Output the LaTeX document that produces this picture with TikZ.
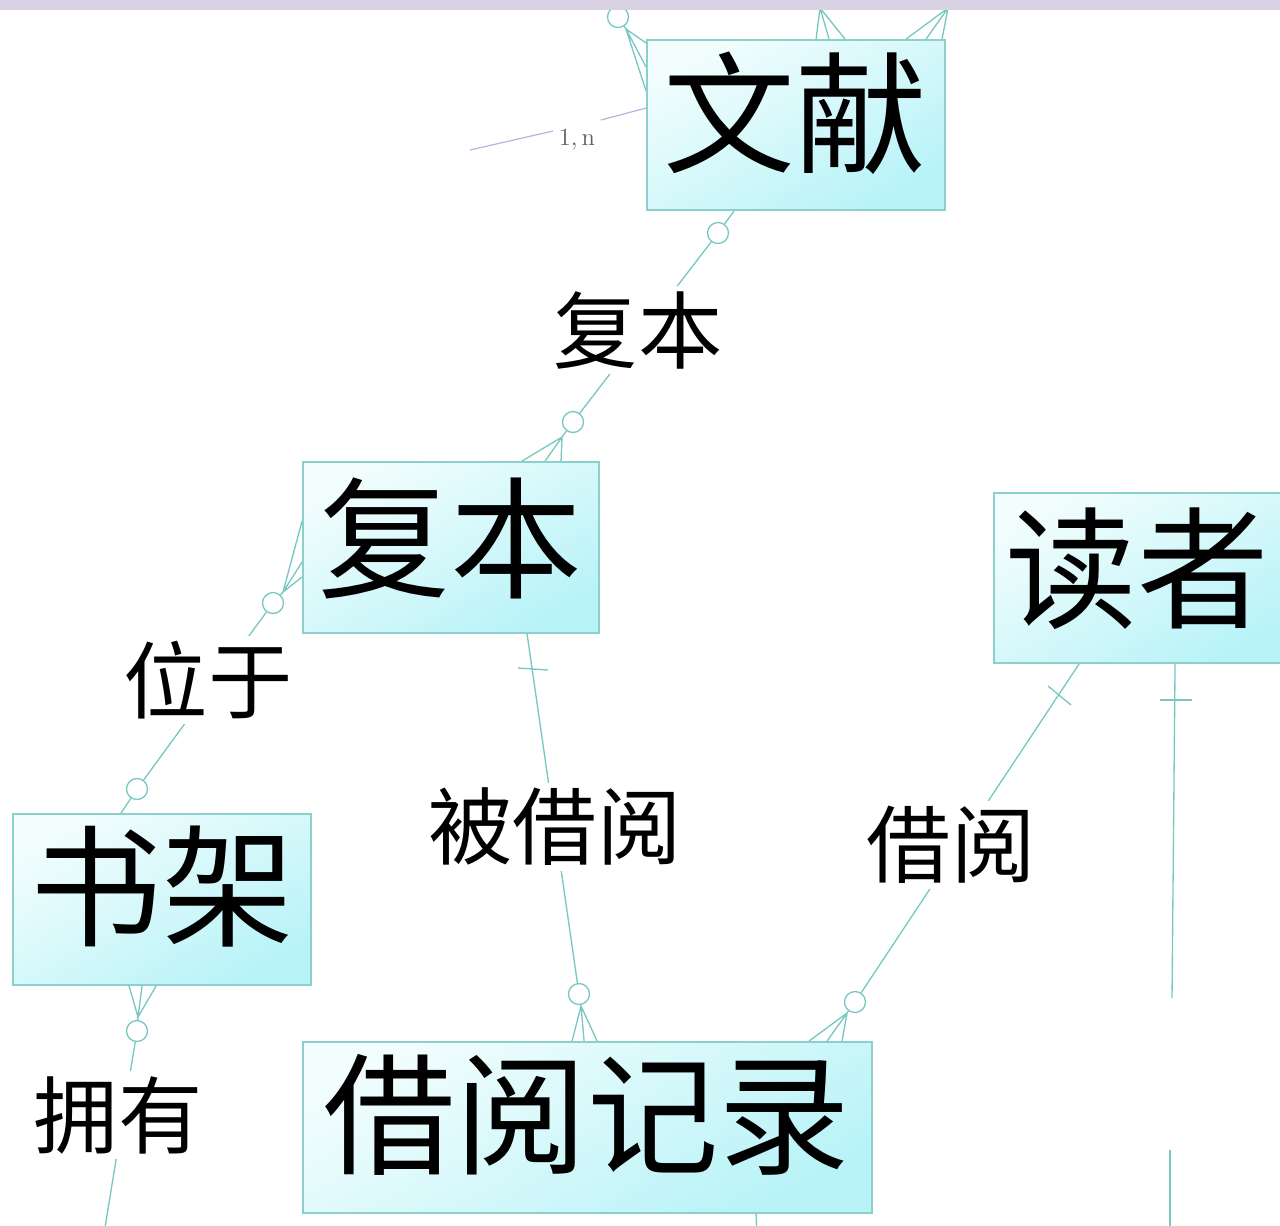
\documentclass[tikz,border=0pt]{standalone}
\usepackage{fontspec}
\newfontfamily\cjk{Noto Sans CJK SC}
\usetikzlibrary{calc}
\definecolor{band}{RGB}{216,210,226}
\definecolor{boxline}{RGB}{140,208,204}
\definecolor{boxlight}{RGB}{242,253,253}
\definecolor{boxdark}{RGB}{184,243,248}
\definecolor{connc}{RGB}{120,200,194}
\definecolor{lav}{RGB}{190,178,225}
\definecolor{ntext}{RGB}{95,95,105}
\begin{document}
\begin{tikzpicture}[x=0.02cm,y=-0.02cm,
  entity/.style={draw=boxline, line width=1.1pt, top color=boxlight, bottom color=boxdark, shading angle=30, inner sep=0pt},
  boxtext/.style={font=\cjk\fontsize{75}{75}\selectfont, inner sep=0pt, text=black},
  lbl/.style={font=\cjk\fontsize{48}{48}\selectfont, fill=white, inner sep=3pt, text=black},
  conn/.style={draw=connc, line width=0.75pt},
  ocirc/.style={circle, draw=connc, fill=white, line width=0.75pt, minimum size=0.42cm, inner sep=0pt},
  mult/.style={font=\fontsize{14}{14}\selectfont, text=ntext, inner sep=1pt}]
\useasboundingbox (0,0) rectangle (1280,1225);
\fill[white] (0,0) rectangle (1280,1225);

% entities
\node[entity, minimum width=5.96cm, minimum height=3.4cm] (wenxian) at (796,125) {};
\node[boxtext] (wenxian-t) at (795,113) {文献};
\node[entity, minimum width=5.92cm, minimum height=3.42cm] (fuben) at (451,547.5) {};
\node[boxtext] (fuben-t) at (450,538) {复本};
\node[entity, minimum width=5.96cm, minimum height=3.4cm] (duzhe) at (1143,578) {};
\node[boxtext] (duzhe-t) at (1137,569) {读者};
\node[entity, minimum width=5.96cm, minimum height=3.42cm] (shujia) at (162,899.5) {};
\node[boxtext] (shujia-t) at (162,887) {书架};
\node[entity, minimum width=11.38cm, minimum height=3.42cm] (jieyue) at (587.5,1127.5) {};
\node[boxtext] (jieyue-t) at (587,1115) {借阅记录};

% circles and junctions
\node[ocirc] (oA1) at (718,233) {};
\node[ocirc] (oA2) at (573,422) {};
\coordinate (jA) at (562,437);
\node[ocirc] (oB1) at (273,603) {};
\node[ocirc] (oB2) at (137,789) {};
\coordinate (jB) at (283,592);
\node[ocirc] (oC) at (137,1031) {};
\coordinate (jC) at (138,1017);
\coordinate (cEnd) at (103,1240);
\node[ocirc] (oD) at (579,994) {};
\coordinate (jD) at (581,1006);
\node[ocirc] (oE) at (855,1002) {};
\coordinate (jE) at (847,1013);
\node[ocirc] (oT) at (618,17) {};
\coordinate (jT) at (626,29);
\coordinate (tTop) at (610,-10);
\coordinate (jM) at (820,8);
\coordinate (mTop) at (820,-10);
\coordinate (jR) at (948,8);
\coordinate (rTop) at (950,-10);

% A: wenxian - fuben
\draw[conn] ($(wenxian.south west)+(88,0)$) -- (oA1) -- (oA2) -- (jA);
\draw[conn] (jA) -- ($(fuben.north west)+(220,0)$)
            (jA) -- ($(fuben.north west)+(243,0)$)
            (jA) -- ($(fuben.north west)+(259,0)$);
\node[lbl] (lA) at (638,330) {复本};

% B: fuben - shujia
\draw[conn] (jB) -- ($(fuben.north west)+(0,60)$)
            (jB) -- ($(fuben.north west)+(0,101)$)
            (jB) -- ($(fuben.north west)+(0,116)$);
\draw[conn] (jB) -- (oB1) -- (oB2) -- ($(shujia.north west)+(109,0)$);
\node[lbl] (lB) at (208,680) {位于};

% C: shujia - down
\draw[conn] (jC) -- ($(shujia.south west)+(117,0)$)
            (jC) -- ($(shujia.south west)+(130,0)$)
            (jC) -- ($(shujia.south west)+(144,0)$);
\draw[conn] (jC) -- (oC) -- (cEnd);
\node[lbl] (lC) at (118,1115) {拥有};

% D: fuben - jieyue
\coordinate (dS) at ($(fuben.south west)+(225,0)$);
\coordinate (tD1) at (518,668);
\coordinate (tD2) at (548,670);
\draw[conn] (dS) -- (oD) -- (jD);
\draw[conn] (tD1) -- (tD2);
\draw[conn] (jD) -- ($(jieyue.north west)+(270,0)$)
            (jD) -- ($(jieyue.north west)+(282,0)$)
            (jD) -- ($(jieyue.north west)+(295,0)$);
\node[lbl] (lD) at (555,827) {被借阅};

% E: duzhe - jieyue
\coordinate (eS) at ($(duzhe.south west)+(86,0)$);
\coordinate (tE1) at (1048,686);
\coordinate (tE2) at (1071,705);
\draw[conn] (eS) -- (oE) -- (jE);
\draw[conn] (tE1) -- (tE2);
\draw[conn] (jE) -- ($(jieyue.north west)+(507,0)$)
            (jE) -- ($(jieyue.north west)+(525,0)$)
            (jE) -- ($(jieyue.north west)+(540,0)$);
\node[lbl] (lE) at (951,845) {借阅};

% F: duzhe - down
\coordinate (fS) at ($(duzhe.south west)+(182,0)$);
\coordinate (fE) at (1172,998);
\coordinate (tF1) at (1160,700);
\coordinate (tF2) at (1192,700);
\coordinate (f2S) at (1170,1150);
\coordinate (f2E) at (1170,1240);
\draw[conn] (fS) -- (fE);
\draw[conn] (tF1) -- (tF2);
\draw[conn] (f2S) -- (f2E);

% G: jieyue - down
\coordinate (gE) at (757,1240);
\draw[conn] ($(jieyue.south west)+(454,0)$) -- (gE);

% top connectors of wenxian
\draw[conn] (tTop) -- (oT) -- (jT);
\draw[conn] (jT) -- ($(wenxian.north west)+(0,4)$)
            (jT) -- ($(wenxian.north west)+(0,28)$)
            (jT) -- ($(wenxian.north west)+(0,52)$);
\draw[conn] (mTop) -- (jM);
\draw[conn] (jM) -- ($(wenxian.north west)+(170,0)$)
            (jM) -- ($(wenxian.north west)+(183,0)$)
            (jM) -- ($(wenxian.north west)+(199,0)$);
\draw[conn] (rTop) -- (jR);
\draw[conn] (jR) -- ($(wenxian.north west)+(260,0)$)
            (jR) -- ($(wenxian.north west)+(280,0)$)
            (jR) -- ($(wenxian.north west)+(296,0)$);

% 1,n line
\coordinate (n0) at (470,150);
\coordinate (n1) at (553,131);
\coordinate (n2) at (601,120);
\draw[draw=lav, line width=0.7pt] (n0) -- (n1);
\draw[draw=lav, line width=0.7pt] (n2) -- ($(wenxian.north west)+(0,69)$);
\node[mult] (mn) at (577,140) {1,\,n};

% top band
\fill[band] (0,0) rectangle (1280,10);
\end{tikzpicture}
\end{document}
